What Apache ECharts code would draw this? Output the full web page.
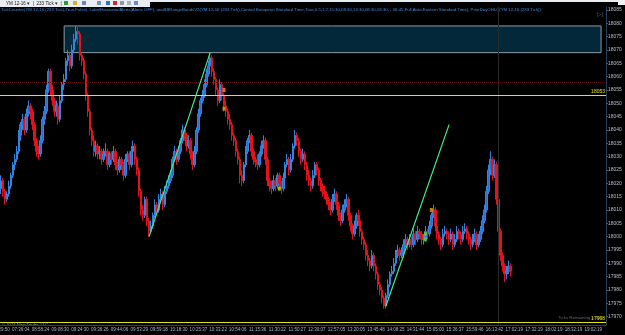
<!DOCTYPE html>
<html>
<head>
<meta charset="utf-8">
<script src="https://cdn.jsdelivr.net/npm/echarts@6/dist/echarts.min.js"></script>
<style>
html, body { margin: 0; padding: 0; background: #000; }
#chart { width: 625px; height: 335px; }
</style>
</head>
<body>
<div id="chart"></div>
<script>
// x axis: one label every 10 bar slots
const timeLabels = ['06:29:50', '07:36:04', '08:58:24', '09:08:30', '09:24:30', '09:36:26', '09:44:06',
  '09:53:29', '09:59:18', '10:18:30', '10:25:37', '10:33:22', '10:54:06', '11:15:36', '11:30:22',
  '11:50:27', '12:30:07', '12:57:05', '13:20:05', '13:45:48', '14:08:25', '14:31:44', '15:05:00',
  '15:36:37', '15:59:46', '16:13:42', '17:02:19', '17:32:19', '18:02:19', '18:32:19', '19:02:19'];
const slotCount = 307;

// 233 tick bars, open of each bar = previous close
const firstOpen = 18018;
const closes = [
  18021,18017,18014,18016,18019,18023,18027,18029,18032,18038,
  18042,18044,18040,18046,18049,18047,18042,18036,18032,18031,
  18036,18044,18047,18055,18062,18055,18051,18047,18049,18044,
  18051,18057,18059,18066,18068,18064,18070,18074,18077,18076,
  18068,18066,18061,18053,18047,18040,18036,18032,18034,18031,
  18032,18029,18031,18032,18027,18031,18029,18032,18027,18025,
  18029,18027,18023,18029,18031,18027,18032,18034,18029,18025,18017,
  18010,18008,18014,18006,18002,18004,18008,18012,18010,18014,
  18016,18012,18017,18019,18021,18023,18029,18032,18029,18032,
  18036,18040,18038,18034,18036,18031,18027,18032,18040,18046,
  18051,18053,18057,18061,18064,18067,18062,18059,18055,18051,
  18057,18053,18049,18047,18044,18042,18038,18036,18032,18029,
  18023,18021,18027,18032,18036,18038,18032,18029,18028,18027,18031,
  18034,18036,18029,18021,18019,18018,18021,18019,18023,18020,
  18018,18022,18027,18029,18025,18029,18034,18038,18036,18032,
  18029,18031,18027,18023,18021,18019,18023,18027,18025,18021,
  18019,18017,18016,18014,18012,18010,18014,18016,18012,18008,
  18006,18010,18012,18014,18008,18004,18001,18004,18008,18006,
  18002,17999,17997,17993,17991,17989,17993,17989,17986,17982,
  17980,17977,17974,17978,17982,17986,17987,17990,17993,17995,
  17993,17994,17997,17999,17997,17999,17997,18001,17999,18002,18001,
  17999,17999,18002,18001,18004,18008,18010,18004,18001,17999,
  17997,18001,18002,18001,17999,18001,17997,17999,18002,18001,
  17999,18002,18003,18001,17999,17997,17999,18001,17997,17999,
  18002,18006,18010,18017,18025,18029,18023,18027,18014,18002,
  17993,17989,17986,17987,17989,17987
];
const highs = [
  18023,18022,18018,18017,18021,18024,18028,18031,18034,18040,
  18043,18046,18045,18048,18051,18050,18048,18043,18037,18034,
  18038,18045,18049,18057,18063,18063,18057,18052,18051,18050,
  18053,18058,18061,18067,18070,18069,18072,18076,18079,18079,
  18077,18069,18067,18062,18054,18048,18041,18038,18036,18035,
  18034,18033,18033,18035,18033,18032,18032,18034,18033,18028,
  18030,18030,18028,18031,18032,18032,18034,18036,18035,18030,18026,
  18018,18012,18015,18015,18007,18006,18009,18014,18013,18016,
  18018,18017,18019,18021,18023,18025,18030,18034,18033,18034,
  18037,18042,18041,18039,18038,18037,18032,18034,18041,18048,
  18052,18055,18059,18063,18066,18069,18068,18063,18060,18056,
  18059,18058,18054,18051,18048,18046,18043,18039,18037,18033,
  18030,18025,18028,18034,18037,18040,18039,18033,18030,18031,18032,
  18036,18038,18037,18030,18022,18021,18023,18022,18024,18024,
  18021,18024,18028,18031,18030,18031,18035,18040,18039,18037,
  18033,18033,18032,18028,18025,18022,18025,18028,18028,18026,
  18022,18020,18019,18017,18015,18013,18016,18018,18017,18013,
  18009,18012,18014,18016,18015,18009,18005,18006,18009,18010,
  18007,18003,18000,17998,17995,17992,17995,17994,17990,17987,
  17983,17981,17978,17979,17984,17987,17989,17992,17995,17997,
  17996,17996,17999,18001,18000,18001,18000,18003,18002,18004,18003,
  18002,18001,18004,18003,18006,18009,18012,18011,18005,18002,
  18000,18003,18004,18003,18002,18003,18002,18001,18004,18003,
  18002,18004,18005,18004,18002,18000,18001,18003,18002,18001,
  18004,18008,18012,18019,18027,18032,18030,18029,18028,18015,
  18003,17994,17990,17989,17991,17990
];
const lows = [
  18016,18015,18012,18013,18015,18018,18022,18025,18028,18031,
  18036,18040,18038,18039,18045,18044,18040,18034,18030,18029,
  18030,18035,18042,18046,18054,18053,18049,18045,18045,18042,
  18043,18050,18055,18058,18064,18062,18063,18069,18073,18072,
  18066,18064,18059,18051,18045,18038,18034,18030,18030,18029,
  18029,18027,18028,18030,18025,18026,18027,18028,18025,18023,
  18024,18025,18021,18022,18028,18025,18026,18031,18027,18023,18015,
  18008,18006,18007,18004,18000,18001,18003,18007,18008,18009,
  18013,18010,18011,18016,18018,18020,18022,18028,18027,18028,
  18031,18035,18036,18032,18033,18029,18025,18026,18031,18039,
  18045,18050,18052,18056,18060,18063,18060,18057,18053,18049,
  18050,18051,18047,18045,18042,18040,18036,18034,18030,18027,
  18020,18019,18020,18026,18031,18035,18030,18027,18026,18025,18026,
  18030,18033,18027,18019,18017,18016,18017,18017,18018,18018,
  18016,18017,18021,18026,18023,18024,18028,18033,18034,18030,
  18027,18028,18025,18021,18019,18017,18018,18022,18023,18019,
  18017,18015,18014,18012,18010,18008,18009,18013,18010,18006,
  18004,18005,18009,18011,18006,18002,17999,18000,18003,18004,
  18000,17997,17995,17991,17989,17987,17988,17987,17984,17980,
  17978,17975,17973,17973,17977,17981,17985,17986,17989,17992,
  17991,17992,17992,17996,17995,17996,17995,17996,17997,17998,17999,
  17997,17997,17998,17999,18000,18003,18007,18002,17999,17997,
  17995,17996,18000,17999,17997,17998,17995,17996,17998,17999,
  17997,17998,18001,17999,17997,17995,17996,17998,17995,17996,
  17998,18001,18005,18009,18016,18023,18021,18022,18012,18000,
  17991,17987,17983,17984,17986,17985
];

const yTicks = [17970, 17975, 17980, 17985, 17990, 17995, 18000, 18005, 18010, 18015, 18020, 18025,
  18030, 18035, 18040, 18045, 18050, 18055, 18060, 18065, 18070, 18075, 18080, 18085];

// horizontal levels
const priorDayHigh = 18053;
const priorDayLow = 17968;
const rangeLine = 18058;
const lastPrice = 17987;
// supply zone [slot, price]
const zoneFrom = [32, 18079];
const zoneTo = [304, 18069];
// trend lines [slot, price]
const trend1 = [[75, 18000], [106, 18069]];
const trend2 = [[195, 17974], [227, 18042]];
const sessionBreak = 252;
// alert markers [slot, price, colour]
const markers = [[113, 18055, '#f5a000'], [113, 18048, '#f5a000'], [141, 18018, '#c8e000'],
  [215, 18001, '#40e040'], [215, 17999, '#40e040'], [218, 18010, '#f5a000']];

const categories = [];
for (let i = 0; i < slotCount; i++) {
  categories.push(i % 10 === 0 ? timeLabels[i / 10] : '');
}
const ohlc = closes.map((c, i) => [i === 0 ? firstOpen : closes[i - 1], c, lows[i], highs[i]]);

const FONT = 'Liberation Sans, Arial, sans-serif';
const chart = echarts.init(document.getElementById('chart'), null, { renderer: 'canvas' });

chart.setOption({
  backgroundColor: '#000',
  animation: false,
  grid: { left: 0, right: 19, top: 7, bottom: 10, outerBoundsMode: 'none' },
  xAxis: {
    type: 'category',
    data: categories,
    boundaryGap: true,
    axisLine: { lineStyle: { color: '#26405c' } },
    axisTick: { interval: 9, length: 2, alignWithLabel: true, lineStyle: { color: '#3a5878' } },
    axisLabel: { interval: 9, color: '#a9b7c8', fontSize: 4.5, margin: 2, fontFamily: FONT },
    splitLine: { show: false }
  },
  yAxis: {
    type: 'value',
    position: 'right',
    min: 17966.87,
    max: 18086.11,
    axisLine: { show: true, lineStyle: { color: '#26405c' } },
    axisTick: { show: true, length: 2, customValues: yTicks, lineStyle: { color: '#3a5878' } },
    axisLabel: {
      customValues: yTicks, formatter: v => String(v),
      color: '#b5bfcb', fontSize: 5, margin: 2, fontFamily: FONT
    },
    splitLine: { show: false }
  },
  series: [
    {
      type: 'line',
      data: [],
      z: 1,
      silent: true,
      markArea: {
        silent: true,
        itemStyle: { color: '#03283a', borderColor: '#8d9ca3', borderWidth: 1 },
        data: [[{ coord: zoneFrom }, { coord: zoneTo }]]
      },
      markLine: {
        silent: true,
        symbol: 'none',
        label: { show: false },
        lineStyle: { color: '#2a2a2a', width: 1, type: 'solid' },
        data: [{ xAxis: sessionBreak }]
      }
    },
    {
      type: 'candlestick',
      data: ohlc,
      z: 2,
      barWidth: 2,
      itemStyle: {
        color: '#2a6fcc', color0: '#e5121b',
        borderColor: '#3384e0', borderColor0: '#e5121b', borderWidth: 1
      }
    },
    {
      type: 'line',
      data: [],
      z: 3,
      silent: true,
      markLine: {
        silent: true,
        symbol: 'none',
        data: [
          { yAxis: rangeLine, lineStyle: { color: '#5a0b0b', width: 1, type: [1, 1] }, label: { show: false } },
          {
            yAxis: priorDayHigh, lineStyle: { color: '#e3e31a', width: 1, type: 'solid' },
            label: { show: true, position: 'insideEndTop', distance: [1, 1], formatter: String(priorDayHigh), color: '#e3e31a', fontSize: 5, fontFamily: FONT }
          },
          {
            yAxis: priorDayLow, lineStyle: { color: '#e3e31a', width: 1, type: 'solid' },
            label: { show: true, position: 'insideEndTop', distance: [1, 1], formatter: String(priorDayLow), color: '#e3e31a', fontSize: 5, fontFamily: FONT }
          },
          {
            yAxis: lastPrice, lineStyle: { opacity: 0 },
            label: { show: true, position: 'end', distance: 2, formatter: String(lastPrice), color: '#000', backgroundColor: '#f2a515', padding: [1, 2], fontSize: 5, fontFamily: FONT }
          },
          [{ coord: trend1[0], lineStyle: { color: '#3df08a', width: 1.2, type: 'solid' }, label: { show: false } }, { coord: trend1[1] }],
          [{ coord: trend2[0], lineStyle: { color: '#3df08a', width: 1.2, type: 'solid' }, label: { show: false } }, { coord: trend2[1] }]
        ]
      }
    },
    {
      type: 'scatter',
      z: 4,
      symbol: 'rect',
      symbolSize: [3, 4],
      data: markers.map(m => ({ value: [m[0], m[1]], itemStyle: { color: m[2] } }))
    }
  ],
  graphic: [
    { type: 'rect', shape: { x: 0, y: 0, width: 625, height: 2 }, style: { fill: '#e9ecf0' } },
    { type: 'rect', shape: { x: 0, y: 0, width: 150, height: 7 }, style: { fill: '#e9ecf0' } },
    { type: 'text', x: 6, y: 1, style: { text: 'YM 12-16 \u25be  |  233 Tick \u25be  |', fill: '#222', font: '4.6px ' + FONT } },
    { type: 'rect', shape: { x: 64, y: 1, width: 4, height: 4 }, style: { fill: '#2f9a3a' } },
    { type: 'rect', shape: { x: 73, y: 1, width: 4, height: 4 }, style: { fill: '#d8b020' } },
    { type: 'rect', shape: { x: 82, y: 1, width: 4, height: 4 }, style: { fill: '#6a8ab0' } },
    { type: 'rect', shape: { x: 97, y: 1, width: 4, height: 4 }, style: { fill: '#8090a8' } },
    { type: 'rect', shape: { x: 106, y: 1, width: 4, height: 4 }, style: { fill: '#3070c0' } },
    { type: 'rect', shape: { x: 113, y: 1, width: 4, height: 4 }, style: { fill: '#c03030' } },
    { type: 'rect', shape: { x: 120, y: 1, width: 4, height: 4 }, style: { fill: '#9098a8' } },
    { type: 'rect', shape: { x: 127, y: 1, width: 4, height: 4 }, style: { fill: '#a8b0c0' } },
    { type: 'rect', shape: { x: 134, y: 1, width: 4, height: 4 }, style: { fill: '#7088c8' } },
    { type: 'rect', shape: { x: 618, y: 0, width: 7, height: 5 }, style: { fill: '#f2f2f2' } },
    {
      type: 'text', x: 1, y: 8,
      style: {
        text: 'TickCounter(YM 12-16 (233 Tick),True,False), LabelHorizontalAlerts(Alerts OFF), anaBBRangeBandsV2(YM 12-16 (233 Tick),Central European Standard Time,True,0.5,1,2,15:30,08:30,13:30,08:30,03:30, - 06:45,Full,Auto,Eastern Standard Time), PriorDayOHLC(YM 12-16 (233 Tick))',
        fill: '#3d8ee0', font: '4.3px ' + FONT
      }
    },
    { type: 'text', x: 597, y: 11, style: { text: '\u25b7|', fill: '#5a6878', font: '6px ' + FONT } },
    { type: 'text', x: 2, y: 323, style: { text: '\u00a9 2014 NinjaTrader, LLC', fill: '#8a98a8', font: '4.2px ' + FONT } },
    { type: 'text', x: 558, y: 316, style: { text: 'Ticks Remaining = 132', fill: '#606a76', font: '4.4px ' + FONT } }
  ]
});
</script>
</body>
</html>
